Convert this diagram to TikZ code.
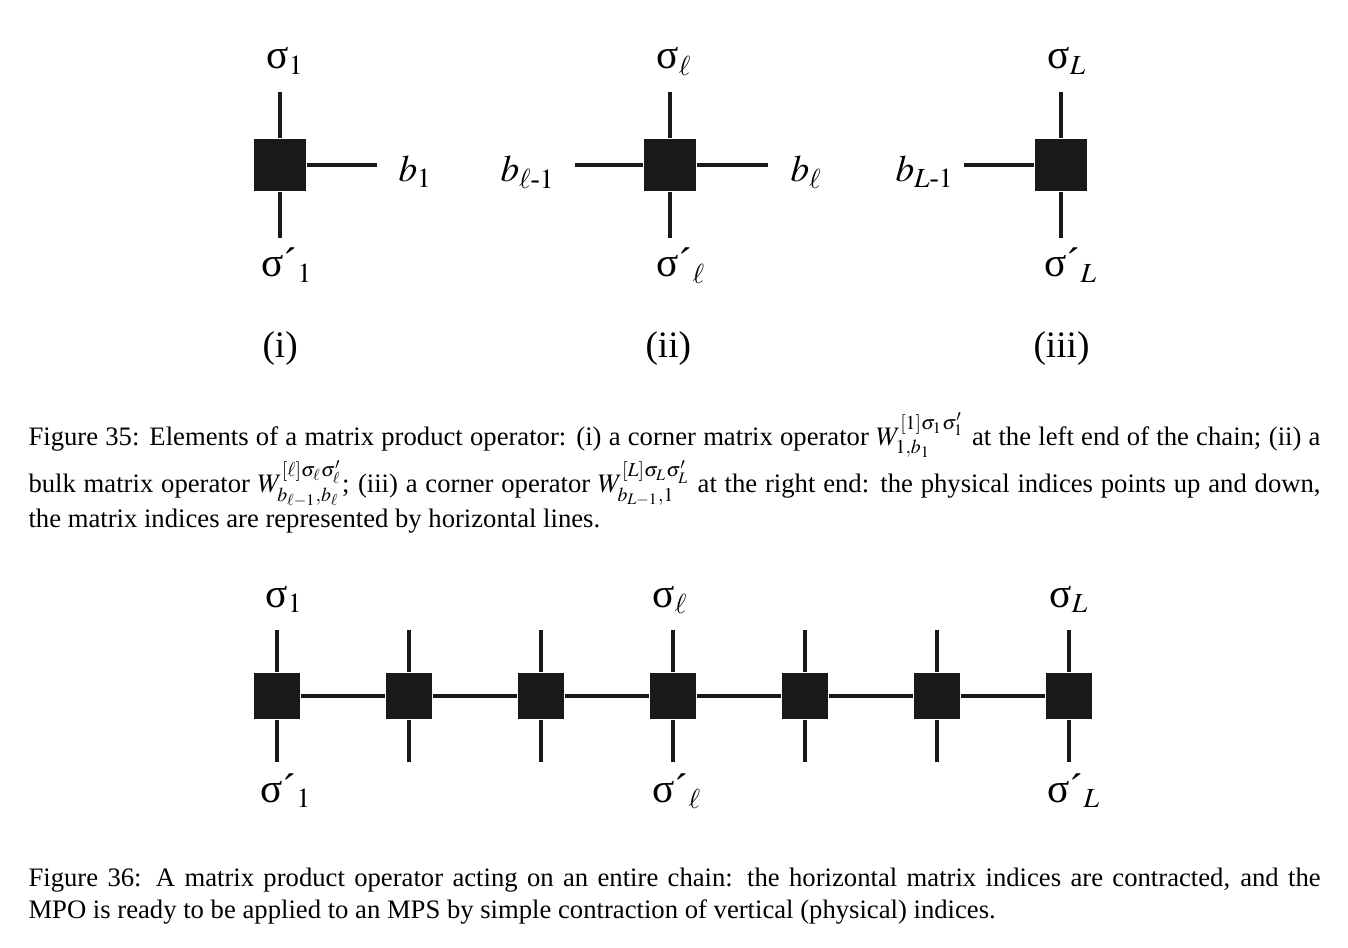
\documentclass[tikz,border=0pt]{standalone}
\usepackage{amsmath}
\usepackage{mathptmx}
\usepackage[no-math]{fontspec}
\setmainfont{Liberation Serif}

\newcommand{\sg}[1]{{\fontsize{15.5}{16}\selectfont σ}$_{#1}$}
\newcommand{\sgp}[1]{{\fontsize{15.5}{16}\selectfont σ´}$_{#1}$}

\begin{document}
\begin{tikzpicture}[x=0.375pt, y=-0.375pt,
	site/.style={fill=black!90, minimum size=19.5pt, inner sep=0pt},
	link/.style={fill=black!90, minimum size=17.25pt, inner sep=0pt},
	leg/.style={line width=1.75pt, black!90},
	lab/.style={font=\fontsize{14}{16}\selectfont, inner sep=0pt, anchor=base west},
	capt/.style={font=\fontsize{10}{12}\selectfont, text width=484.5pt, align=justify, inner sep=0pt, anchor=base west}]
	\useasboundingbox (0,0) rectangle (1348,948);
	% Figure 35
	\node[site] (w1) at (280,165) {};
	\node[site] (w2) at (670,165) {};
	\node[site] (w3) at (1061,165) {};
	\coordinate (w1u) at (280,92);  \coordinate (w1d) at (280,238);  \coordinate (w1r) at (377,165);
	\coordinate (w2u) at (670,92);  \coordinate (w2d) at (670,238);  \coordinate (w2l) at (575,165); \coordinate (w2r) at (768,165);
	\coordinate (w3u) at (1061,92); \coordinate (w3d) at (1061,238); \coordinate (w3l) at (964,165);
	\draw[leg] (w1u) -- (w1.north);
	\draw[leg] (w1.south) -- (w1d);
	\draw[leg] (w1.east) -- (w1r);
	\draw[leg] (w2u) -- (w2.north);
	\draw[leg] (w2.south) -- (w2d);
	\draw[leg] (w2l) -- (w2.west);
	\draw[leg] (w2.east) -- (w2r);
	\draw[leg] (w3u) -- (w3.north);
	\draw[leg] (w3.south) -- (w3d);
	\draw[leg] (w3l) -- (w3.west);
	\node[lab] (s1) at (266,69) {\sg{1}};
	\node[lab] (s1p) at (261,277) {\sgp{1}};
	\node[lab] (b1) at (398,182) {$b_1$};
	\node[lab] (i1) at (262,358) {(i)};
	\node[lab] (sl) at (656,69) {\sg{\ell}};
	\node[lab] (slp) at (656,277) {\sgp{\ell}};
	\node[lab] (bl0) at (500,182) {$b_{\ell\text{-}1}$};
	\node[lab] (bl) at (790,182) {$b_\ell$};
	\node[lab] (i2) at (645,358) {(ii)};
	\node[lab] (sL) at (1047,69) {\sg{L}};
	\node[lab] (sLp) at (1044,277) {\sgp{L}};
	\node[lab] (bL0) at (895,182) {$b_{L\text{-}1}$};
	\node[lab] (i3) at (1033,358) {(iii)};
	\node[capt] (cap35) at (28,445) {Figure 35: Elements of a matrix product operator: (i) a corner matrix operator $W^{[1]\sigma_1\sigma'_1}_{1,b_1}$ at the left end of the chain; (ii) a bulk matrix operator $W^{[\ell]\sigma_\ell\sigma'_\ell}_{b_{\ell-1},b_\ell}$; (iii) a corner operator $W^{[L]\sigma_L\sigma'_L}_{b_{L-1},1}$ at the right end: the physical indices points up and down, the matrix indices are represented by horizontal lines.};
	% Figure 36
	\foreach \i/\x in {1/277,2/409,3/541,4/673,5/805,6/937,7/1069} {
		\node[link] (m\i) at (\x,696) {};
		\coordinate (m\i u) at (\x,630);
		\coordinate (m\i d) at (\x,762);
		\draw[leg] (m\i u) -- (m\i.north);
		\draw[leg] (m\i.south) -- (m\i d);
	}
	\foreach \a/\b in {1/2,2/3,3/4,4/5,5/6,6/7}
		\draw[leg] (m\a.east) -- (m\b.west);
	\node[lab] (t1) at (265,607) {\sg{1}};
	\node[lab] (t1p) at (260,802) {\sgp{1}};
	\node[lab] (tl) at (652,607) {\sg{\ell}};
	\node[lab] (tlp) at (652,802) {\sgp{\ell}};
	\node[lab] (tL) at (1049,607) {\sg{L}};
	\node[lab] (tLp) at (1047,802) {\sgp{L}};
	\node[capt] (cap36) at (28,886) {Figure 36: A matrix product operator acting on an entire chain: the horizontal matrix indices are contracted, and the\linebreak MPO is ready to be applied to an MPS by simple contraction of vertical (physical) indices.};
\end{tikzpicture}
\end{document}
